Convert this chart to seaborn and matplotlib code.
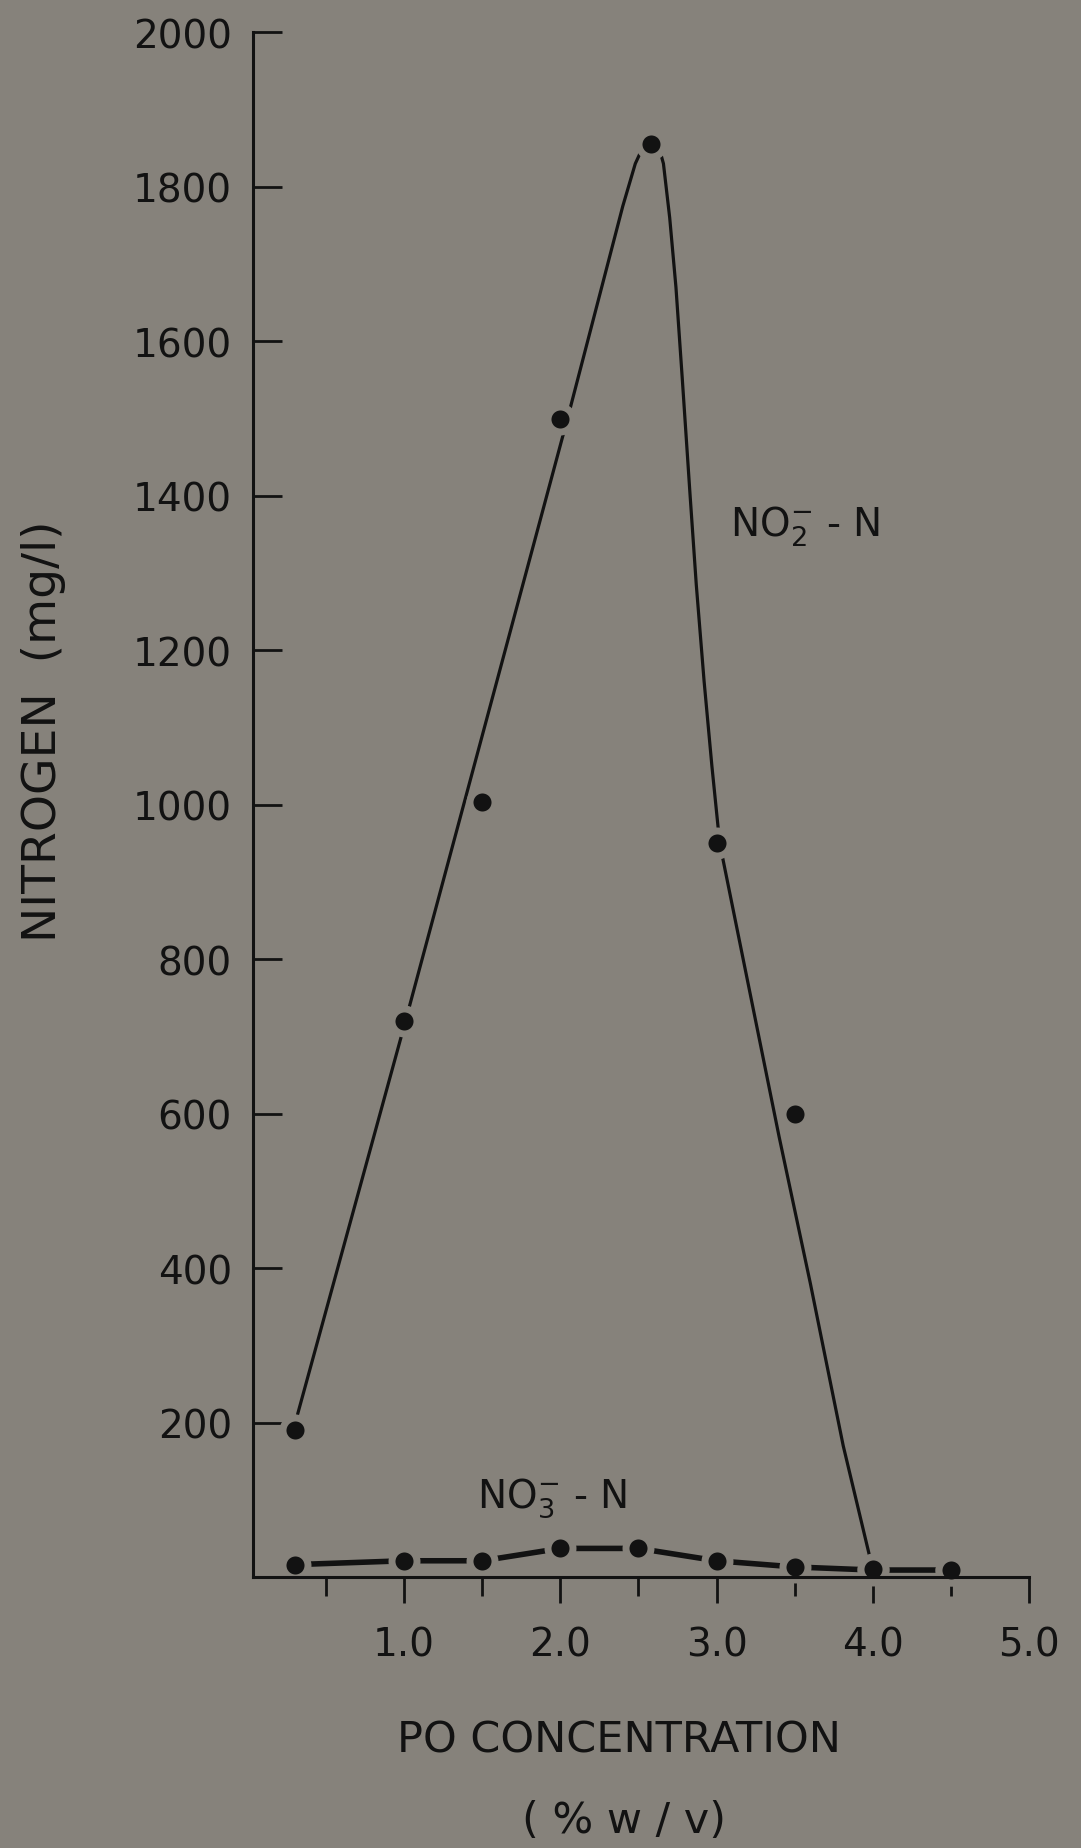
import matplotlib
matplotlib.use("Agg")
import matplotlib.pyplot as plt
import seaborn as sns
import pandas as pd
from matplotlib.ticker import FixedLocator

# ---------------- data ----------------
po_conc = [0.3, 1.0, 1.5, 2.0, 2.58, 3.0, 3.5, 4.0, 4.5]
no2_n = [190, 720, 1004, 1499, 1856, 950, 600, 10, 9]

no3_x = [0.3, 1.0, 1.5, 2.0, 2.5, 3.0, 3.5, 4.0, 4.5]
no3_n = [16, 21, 21, 37, 37, 21, 13, 9, 9]

# hand-drawn NO2- curve (vertices)
no2_curve_x = [0.32, 1.01, 2.045, 2.265, 2.40, 2.48, 2.53, 2.59, 2.63, 2.66,
               2.70, 2.74, 2.78, 2.83, 2.87, 2.92, 2.97, 3.02, 3.21, 3.40,
               3.60, 3.81, 3.98]
no2_curve_y = [211, 720, 1499, 1670, 1775, 1830, 1852, 1860, 1852, 1830,
               1760, 1670, 1553, 1402, 1285, 1160, 1050, 950, 760, 570,
               380, 170, 26]

x_major = [1.0, 2.0, 3.0, 4.0, 5.0]
x_minor = [0.5, 1.5, 2.5, 3.5, 4.5]
x_labels = ["1.0", "2.0", "3.0", "4.0", "5.0"]
y_ticks = [200, 400, 600, 800, 1000, 1200, 1400, 1600, 1800, 2000]
y_labels = ["200", "400", "600", "800", "1000", "1200", "1400", "1600", "1800", "2000"]

# ---------------- style ----------------
BG = "#86827b"
INK = "#121212"

sns.set_theme(style="ticks")
plt.rcParams["font.family"] = ["DejaVu Sans"]
plt.rcParams["mathtext.default"] = "regular"
plt.rcParams["mathtext.fontset"] = "dejavusans"

fig = plt.figure(figsize=(10.81, 18.49), dpi=100, facecolor=BG)
ax = fig.add_axes([0.2340, 0.14657, 0.7181, 0.8354], facecolor=BG)

curve_df = pd.DataFrame({"x": no2_curve_x, "y": no2_curve_y})
no2_df = pd.DataFrame({"x": po_conc, "y": no2_n})
no3_df = pd.DataFrame({"x": no3_x, "y": no3_n})

# NO2- fitted curve
sns.lineplot(data=curve_df, x="x", y="y", sort=False, estimator=None, ax=ax,
             color=INK, linewidth=2.3, zorder=2)
# NO3- line with dots
sns.lineplot(data=no3_df, x="x", y="y", sort=False, estimator=None, ax=ax,
             color=INK, linewidth=4.0, marker="o", markersize=18,
             markerfacecolor=INK, markeredgecolor=BG, markeredgewidth=5,
             zorder=2, clip_on=False)
# NO2- data points
sns.scatterplot(data=no2_df, x="x", y="y", ax=ax, color=INK, s=18**2,
                edgecolor=BG, linewidth=5, zorder=3, clip_on=False)

ax.set_xlim(0.034, 5.0)
ax.set_ylim(0, 2000)

for s in ["top", "right"]:
    ax.spines[s].set_visible(False)
for s in ["left", "bottom"]:
    ax.spines[s].set_linewidth(2.2)
    ax.spines[s].set_color(INK)
    ax.spines[s].set_zorder(4)

ax.xaxis.set_major_locator(FixedLocator(x_major))
ax.set_xticklabels(x_labels)
ax.xaxis.set_minor_locator(FixedLocator(x_minor))
ax.set_yticks(y_ticks)
ax.set_yticklabels(y_labels)

ax.tick_params(axis="y", direction="in", length=21, width=2, pad=15,
               labelsize=28, colors=INK)
ax.tick_params(axis="x", which="major", direction="out", length=19, width=2,
               pad=16, labelsize=28, colors=INK)
ax.tick_params(axis="x", which="minor", direction="out", length=13.5, width=2,
               colors=INK)

ax.set_xlabel("")
ax.set_ylabel("")

# annotations
ax.text(3.086, 1348, r"NO$_2^{-}$ - N", fontsize=28, color=INK,
        ha="left", va="baseline")
ax.text(1.47, 91, r"NO$_3^{-}$ - N", fontsize=28, color=INK,
        ha="left", va="baseline")

# axis titles
fig.text(44 / 1081, 1 - 731 / 1849, "NITROGEN  (mg/l)", rotation=90,
         ha="center", va="center", fontsize=34, color=INK)
fig.text(619 / 1081, 1 - 1741 / 1849, "PO CONCENTRATION", ha="center",
         va="center", fontsize=31, color=INK)
fig.text(624 / 1081, 1 - 1821 / 1849, "( % w / v)", ha="center",
         va="center", fontsize=31, color=INK)

fig.savefig("out.png", dpi=100, facecolor=BG)
